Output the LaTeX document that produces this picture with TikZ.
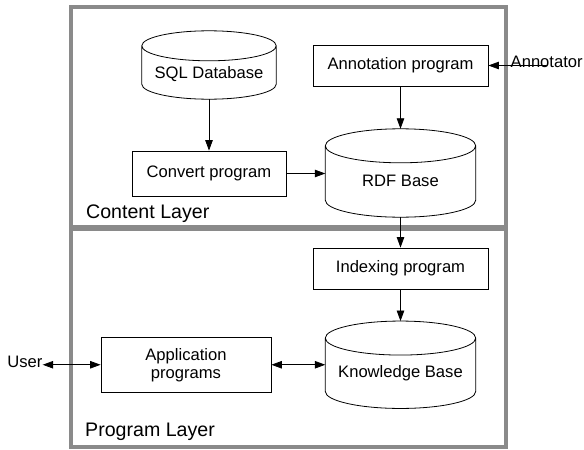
\documentclass[tikz,border=0pt]{standalone}
\usepackage{fontspec}
\setmainfont{Liberation Sans}
\usetikzlibrary{calc,arrows.meta}
\definecolor{layergray}{RGB}{138,138,138}

% outline of a database drum round a named node: #1 node, #2 end radius
\newcommand\drawdb[2]{%
  \draw[line width=0.8pt] let \p1=($(#1.east)-(#1.west)$) in
    ([yshift=-#2]#1.north) ellipse [x radius=0.5*\x1, y radius=#2]
    ([yshift=-#2]#1.north west) -- ([yshift=#2]#1.south west)
    arc [start angle=180, end angle=360, x radius=0.5*\x1, y radius=#2]
    -- ([yshift=-#2]#1.north east);}

\begin{document}
\begin{tikzpicture}[x=1pt,y=-1pt,
    progstyle/.style={rectangle,draw,line width=0.8pt,align=center,
      font=\fontsize{16.6}{18}\selectfont},
    dbstyle/.style={rectangle,inner sep=0pt,text height=26pt,text depth=0pt,
      font=\fontsize{16.6}{18}\selectfont},
    layerstyle/.style={draw=layergray,line width=4pt},
    labelstyle/.style={inner sep=0pt,font=\fontsize{19.6}{22}\selectfont},
    flow/.style={-{Triangle[length=10.5pt,width=7.5pt]},line width=0.8pt},
    both/.style={{Triangle[length=10.5pt,width=7.5pt]}-{Triangle[length=10.5pt,width=7.5pt]},line width=0.8pt}]
\useasboundingbox (0,0) rectangle (584,450);

% the two layers
\draw[layerstyle] (71,7) rectangle (505.5,226.5);
\draw[layerstyle] (71,228.5) rectangle (505.5,446.5);
\node[labelstyle,anchor=base west] (contentlbl) at (86,218.3) {Content Layer};
\node[labelstyle,anchor=base west] (programlbl) at (85,436.7) {Program Layer};

% content layer
\node[dbstyle,minimum width=134pt,minimum height=68pt] (sql) at (209,65) {SQL Database};
\node[progstyle,minimum width=175pt,minimum height=41pt] (annot) at (400.5,65.5) {Annotation program};
\node[progstyle,minimum width=154pt,minimum height=45pt] (conv) at (209,173.5) {Convert program};
\node[dbstyle,minimum width=150pt,minimum height=88pt] (rdf) at (400.5,173) {RDF Base};
\node[inner sep=0pt,font=\fontsize{16.6}{18}\selectfont] (annotator) at (546.7,62) {Annotator};
\drawdb{sql}{15pt}
\drawdb{rdf}{17pt}

% program layer
\node[progstyle,minimum width=175pt,minimum height=41pt] (idx) at (400.5,268.5) {Indexing program};
\node[dbstyle,minimum width=150pt,minimum height=87pt] (kb) at (400.5,364.75) {Knowledge Base};
\node[progstyle,minimum width=170pt,minimum height=55pt] (app) at (186,364.75) {Application\\programs};
\node[inner sep=0pt,font=\fontsize{16.6}{18}\selectfont,anchor=east] (user) at (42.7,362) {User};
\drawdb{kb}{17pt}

% connectors
\draw[flow] (sql.south) -- (conv.north);
\draw[flow] (annot.south) -- (rdf.north);
\draw[flow] (annotator.center |- annot.east) -- (annot.east);
\draw[flow] (conv.east) -- (rdf.west |- conv.east);
\draw[flow] (rdf.south) -- (idx.north);
\draw[flow] (idx.south) -- (kb.north);
\draw[both] (app.east) -- (kb.west |- app.east);
\draw[both] (user.east |- app.west) -- (app.west);
\end{tikzpicture}
\end{document}
